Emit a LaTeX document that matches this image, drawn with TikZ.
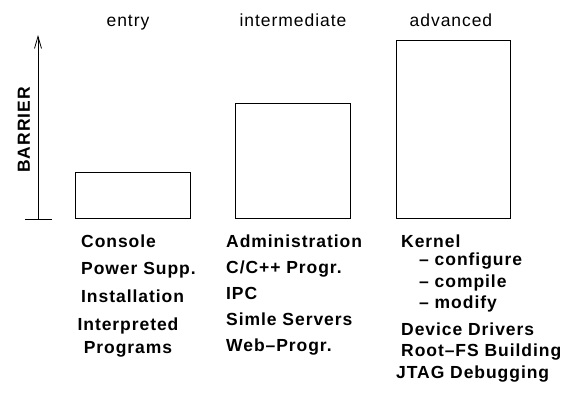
\documentclass[tikz,border=0pt]{standalone}
\usepackage{fontspec}
\setmainfont{Liberation Sans}[LetterSpace=5.4]
\usetikzlibrary{arrows.meta}
\tikzset{
  txt/.style={inner sep=0pt, font=\fontsize{17.5}{20}\selectfont},
  item/.style={txt, font=\fontsize{17.5}{20}\selectfont\bfseries, anchor=base west},
  title/.style={txt, anchor=base},
  level/.style={draw=black, line width=0.8pt, anchor=south west, inner sep=0pt, minimum width=115pt},
  axis/.style={line width=0.8pt},
}
\begin{document}
\begin{tikzpicture}[x=1pt, y=-1pt]
  \useasboundingbox (0,0) rectangle (579,392);

  % vertical barrier axis with its foot
  \coordinate (foot) at (38,219);
  \coordinate (tip) at (38,35);
  \coordinate (footl) at (25,219);
  \coordinate (footr) at (52,219);
  \draw[axis] (footl) -- (footr);
  \draw[axis, -{Straight Barb[length=12pt, width=7pt, line width=0.8pt]}] (foot) -- (tip);
  \node[txt, font=\fontsize{17.5}{20}\selectfont\bfseries, rotate=90, anchor=base] (barrier) at (30,130) {BARRIER};

  % the three levels
  \node[level, minimum height=46pt] (entrybox) at (75,219) {};
  \node[level, minimum height=115pt] (interbox) at (235,219) {};
  \node[level, minimum width=114pt, minimum height=178pt] (advbox) at (396,219) {};

  \node[title] (entry) at (128,26.5) {entry};
  \node[title] (inter) at (293,26.5) {intermediate};
  \node[title] (adv) at (451,26.5) {advanced};

  % entry topics
  \node[item] (console) at (81,247) {Console};
  \node[item] (power) at (81,274) {Power Supp.};
  \node[item] (install) at (81,302) {Installation};
  \node[item, anchor=base] (interp) at (128,330) {Interpreted};
  \node[item, anchor=base] (progs) at (128,353) {Programs};

  % intermediate topics
  \node[item] (admin) at (226,247) {Administration};
  \node[item] (cprog) at (226,273) {C/C++ Progr.};
  \node[item] (ipc) at (226,299) {IPC};
  \node[item] (servers) at (226,325) {Simle Servers};
  \node[item] (web) at (226,351) {Web--Progr.};

  % advanced topics
  \node[item] (kernel) at (401,247) {Kernel};
  \node[item] (kconf) at (419,265) {-- configure};
  \node[item] (kcomp) at (419,287) {-- compile};
  \node[item] (kmod) at (419,308) {-- modify};
  \node[item] (drivers) at (401,335) {Device Drivers};
  \node[item] (rootfs) at (401,356) {Root--FS Building};
  \node[item] (jtag) at (396,378) {JTAG Debugging};
\end{tikzpicture}
\end{document}
